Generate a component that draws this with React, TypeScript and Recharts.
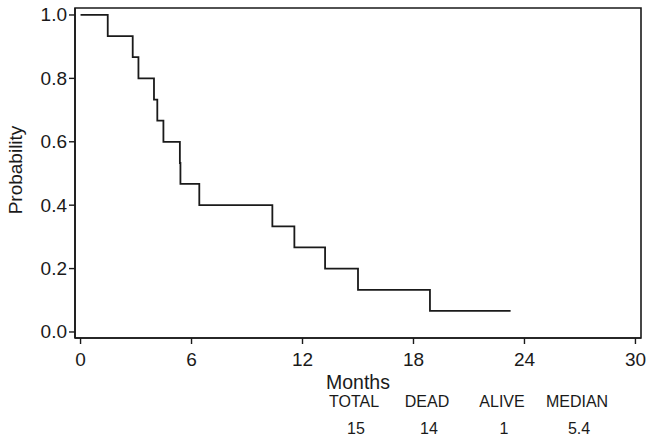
import React from "react";
import { LineChart, Line, XAxis, YAxis, ReferenceArea } from "recharts";

// Kaplan-Meier estimate, 15 patients (time in months, survival probability)
const months = [0, 1.47, 2.82, 3.13, 3.97, 4.15, 4.48, 5.37, 5.4, 6.42, 10.37, 11.56, 13.22, 15.0, 18.89, 23.25];
const survival = [1.0, 0.933, 0.867, 0.8, 0.733, 0.667, 0.6, 0.533, 0.467, 0.4, 0.333, 0.267, 0.2, 0.133, 0.0667, 0.0667];

const xTicks = [0, 6, 12, 18, 24, 30];
const yTicks = [0, 0.2, 0.4, 0.6, 0.8, 1.0];
const xDomain = [-0.3, 30.3];
const yDomain = [-0.019, 1.022];

const summaryHeaders = ["TOTAL", "DEAD", "ALIVE", "MEDIAN"];
const summaryValues = ["15", "14", "1", "5.4"];

const data = months.map((t, i) => ({ t, s: survival[i] }));

const FONT = "'Liberation Sans', Arial, Helvetica, sans-serif";
const INK = "#1a1a1a";
const colX = [354, 427, 502, 577];

const XTick = ({ x, y, payload }: any) => (
  <text x={x} y={y + 20} textAnchor="middle" fontSize={19} fontFamily={FONT} fill={INK}>
    {payload.value}
  </text>
);

const YTick = ({ x, y, payload }: any) => (
  <text x={x} y={y + 6.5} textAnchor="end" fontSize={19} fontFamily={FONT} fill={INK}>
    {Number(payload.value).toFixed(1)}
  </text>
);

const MonthsLabel = (props: any) => {
  const vb = props.viewBox || { x: 0, y: 0, width: 0 };
  const cx = vb.x + vb.width / 2;
  return (
    <g fontFamily={FONT} fill={INK}>
      <text x={cx} y={389} textAnchor="middle" fontSize={19.5}>
        Months
      </text>
      {summaryHeaders.map((h, i) => (
        <text key={h} x={colX[i]} y={407} textAnchor="middle" fontSize={16}>
          {h}
        </text>
      ))}
      {summaryValues.map((v, i) => (
        <text key={i} x={colX[i] + 2} y={434} textAnchor="middle" fontSize={16}>
          {v}
        </text>
      ))}
    </g>
  );
};

const ProbLabel = (props: any) => {
  const vb = props.viewBox || { x: 0, y: 0, height: 0 };
  const x = 15;
  const y = vb.y + vb.height / 2 - 3;
  return (
    <text
      x={x}
      y={y}
      transform={`rotate(-90, ${x}, ${y})`}
      textAnchor="middle"
      dominantBaseline="central"
      fontSize={19}
      fontFamily={FONT}
      fill={INK}
    >
      Probability
    </text>
  );
};

export default function App() {
  return (
    <div style={{ position: "absolute", left: 0, top: 0, background: "#fff" }}>
      <LineChart width={654} height={442} data={data} margin={{ top: 8, right: 13, left: 0, bottom: 0 }}>
        <ReferenceArea
          x1={xDomain[0]}
          x2={xDomain[1]}
          y1={yDomain[0]}
          y2={yDomain[1]}
          fill="none"
          stroke={INK}
          strokeWidth={1.6}
          ifOverflow="visible"
        />
        <XAxis
          dataKey="t"
          type="number"
          domain={xDomain}
          ticks={xTicks}
          allowDataOverflow
          height={104}
          tickSize={6}
          tickMargin={2}
          tick={<XTick />}
          axisLine={{ stroke: INK, strokeWidth: 1.6 }}
          tickLine={{ stroke: INK, strokeWidth: 1.4 }}
          label={<MonthsLabel />}
        />
        <YAxis
          type="number"
          domain={yDomain}
          ticks={yTicks}
          allowDataOverflow
          width={75}
          tickSize={6}
          tickMargin={2}
          tick={<YTick />}
          axisLine={{ stroke: INK, strokeWidth: 1.6 }}
          tickLine={{ stroke: INK, strokeWidth: 1.4 }}
          label={<ProbLabel />}
        />
        <Line
          type="stepAfter"
          dataKey="s"
          stroke={INK}
          strokeWidth={1.8}
          dot={false}
          isAnimationActive={false}
        />
      </LineChart>
    </div>
  );
}
